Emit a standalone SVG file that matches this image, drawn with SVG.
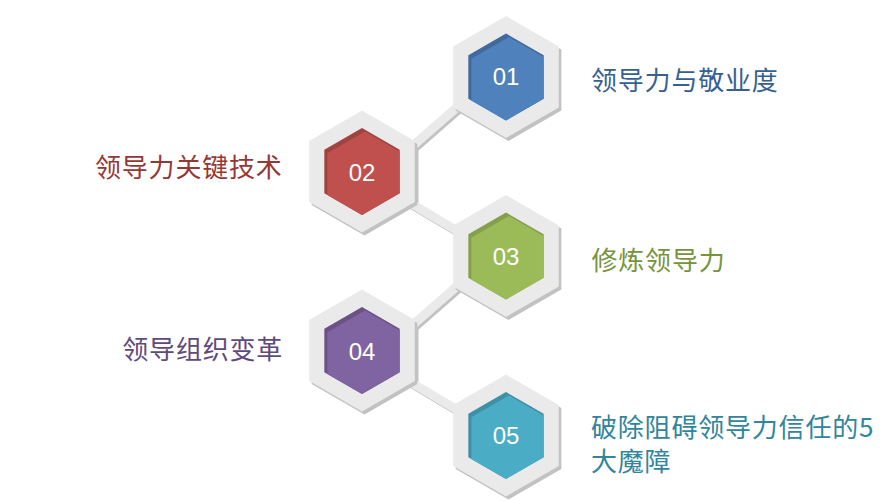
<svg xmlns="http://www.w3.org/2000/svg" xmlns:xlink="http://www.w3.org/1999/xlink" width="895" height="501" viewBox="0 0 895 501">
  <style>
    .num { font-family: "Liberation Sans", Arial, sans-serif; font-size: 24px; fill: #ffffff; text-anchor: middle; }
    .lbl { font-family: "Noto Sans CJK SC", "Noto Sans", sans-serif; font-size: 26px; letter-spacing: 0.8px; }
    .ring { fill: #eaeaea; }
    .ringShadow { fill: #c2c2c2; }
    .band { fill: none; stroke: #eaeaea; stroke-width: 9; stroke-linejoin: miter; }
    .bandShadow { fill: none; stroke: #c2c2c2; stroke-width: 9; stroke-linejoin: miter; }
  </style>
  <defs>
    <polygon id="outer" points="0,-61 52.83,-30.5 52.83,30.5 0,61 -52.83,30.5 -52.83,-30.5"/>
    <polygon id="inner" points="0,-43.5 37.67,-21.75 37.67,21.75 0,43.5 -37.67,21.75 -37.67,-21.75"/>
    <clipPath id="ci" clipPathUnits="userSpaceOnUse">
      <polygon points="0,-43.5 37.67,-21.75 37.67,21.75 0,43.5 -37.67,21.75 -37.67,-21.75"/>
    </clipPath>
    <path id="conn" d="M490,78.3 L412,146.6 L412,204 L490,250.3"/>
  </defs>
  <rect width="895" height="501" fill="#ffffff"/>

  <g id="connectors">
    <use xlink:href="#conn" href="#conn" class="bandShadow" transform="translate(2,2)"/>
    <use xlink:href="#conn" href="#conn" class="band"/>
    <use xlink:href="#conn" href="#conn" class="bandShadow" transform="translate(2,181)"/>
    <use xlink:href="#conn" href="#conn" class="band" transform="translate(0,179)"/>
  </g>

  <g id="node01" transform="translate(506,77)">
    <use href="#outer" class="ringShadow" transform="translate(2.5,3)"/>
    <use href="#outer" class="ring"/>
    <use href="#inner" fill="#41699c"/>
    <g clip-path="url(#ci)"><use href="#inner" fill="#4f81bd" transform="translate(3,3.5)"/></g>
    <text class="num" x="0" y="8.2">01</text>
  </g>
  <g id="node02" transform="translate(362,171.5)">
    <use href="#outer" class="ringShadow" transform="translate(2.5,3)"/>
    <use href="#outer" class="ring"/>
    <use href="#inner" fill="#a0423f"/>
    <g clip-path="url(#ci)"><use href="#inner" fill="#c0504d" transform="translate(3,3.5)"/></g>
    <text class="num" x="0" y="9.5">02</text>
  </g>
  <g id="node03" transform="translate(506,256)">
    <use href="#outer" class="ringShadow" transform="translate(2.5,3)"/>
    <use href="#outer" class="ring"/>
    <use href="#inner" fill="#84a04b"/>
    <g clip-path="url(#ci)"><use href="#inner" fill="#9bbb59" transform="translate(3,3.5)"/></g>
    <text class="num" x="0" y="8.5">03</text>
  </g>
  <g id="node04" transform="translate(362,350.5)">
    <use href="#outer" class="ringShadow" transform="translate(2.5,3)"/>
    <use href="#outer" class="ring"/>
    <use href="#inner" fill="#6a5287"/>
    <g clip-path="url(#ci)"><use href="#inner" fill="#8064a2" transform="translate(3,3.5)"/></g>
    <text class="num" x="0" y="9">04</text>
  </g>
  <g id="node05" transform="translate(506,435.5)">
    <use href="#outer" class="ringShadow" transform="translate(2.5,3)"/>
    <use href="#outer" class="ring"/>
    <use href="#inner" fill="#3e90a6"/>
    <g clip-path="url(#ci)"><use href="#inner" fill="#4bacc6" transform="translate(3,3.5)"/></g>
    <text class="num" x="0" y="8.5">05</text>
  </g>

  <g id="labels">
    <text class="lbl" x="591" y="89.6" fill="#376092">领导力与敬业度</text>
    <text class="lbl" x="95" y="176.6" fill="#953735">领导力关键技术</text>
    <text class="lbl" x="591.5" y="269.9" fill="#77933c">修炼领导力</text>
    <text class="lbl" x="122.3" y="359.4" fill="#604a7b">领导组织变革</text>
    <text class="lbl" x="591" y="437.4" fill="#31859c">破除阻碍领导力信任的5</text>
    <text class="lbl" x="591" y="470.7" fill="#31859c">大魔障</text>
  </g>
</svg>
